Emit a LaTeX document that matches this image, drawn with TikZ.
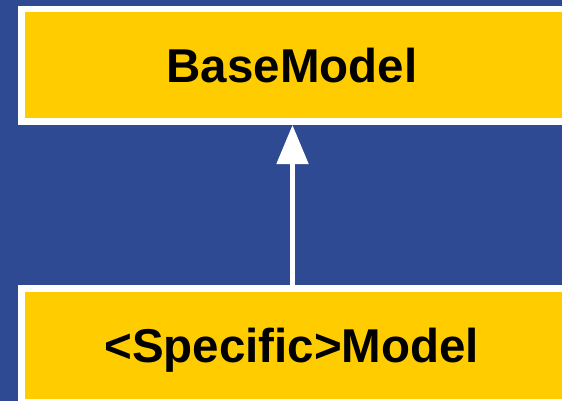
\documentclass[tikz,border=0pt]{standalone}
\usepackage{fontspec}
\setmainfont{Liberation Sans}
\usetikzlibrary{arrows.meta}
\definecolor{bgblue}{HTML}{2E4A93}
\definecolor{boxyellow}{HTML}{FFCC00}
\tikzset{
  classbox/.style={draw=white, line width=6.5pt, fill=boxyellow, rectangle, inner sep=0pt},
  classname/.style={anchor=base, inner sep=0pt, text=black, font=\fontsize{47.5pt}{50pt}\selectfont\bfseries},
  inherits/.style={draw=white, line width=5pt, -{Triangle[length=39pt,width=31pt]}}
}
\begin{document}
\begin{tikzpicture}[x=1pt,y=-1pt]
  % canvas
  \clip (0,0) rectangle (562,401);
  \fill[bgblue] (0,0) rectangle (562,401);
  % class boxes (they run past the right edge)
  \node[classbox, minimum width=578.75pt, minimum height=112.5pt] (base) at (310.625,65.5) {};
  \node[classbox, minimum width=578.75pt, minimum height=114pt] (spec) at (310.625,345.5) {};
  % class names
  \node[classname] (basename) at (292,82.7) {BaseModel};
  \node[classname] (specname) at (291.7,362.7) {<Specific>Model};
  % generalisation arrow
  \coordinate (shaft) at (292.5,0);
  \draw[inherits] (spec.north -| shaft) -- (base.south -| shaft);
\end{tikzpicture}
\end{document}
